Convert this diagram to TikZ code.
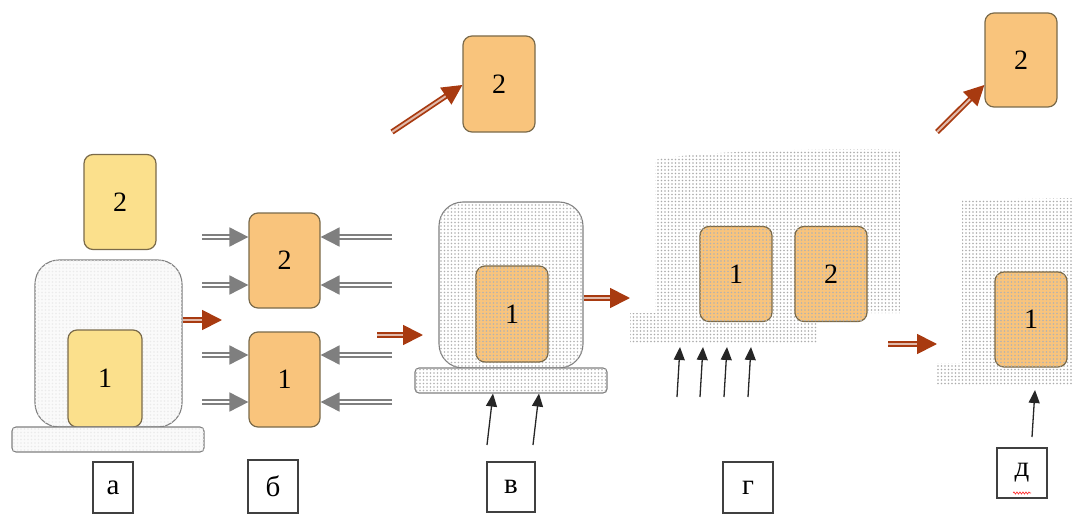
\documentclass[tikz,border=0pt]{standalone}
\usepackage{fontspec}
\setmainfont{Liberation Serif}
\usetikzlibrary{arrows.meta,patterns,decorations.pathmorphing}
\definecolor{ylw}{HTML}{FBE08C}
\definecolor{org}{HTML}{F9C47C}
\definecolor{bord}{HTML}{7A6A4A}
\definecolor{rarr}{HTML}{A83A10}
\definecolor{garr}{HTML}{7F7F7F}
\pgfdeclarepatternformonly{mydots}{\pgfqpoint{-1pt}{-1pt}}{\pgfqpoint{1pt}{1pt}}{\pgfqpoint{3.5pt}{3.5pt}}%
  {\pgfpathcircle{\pgfqpoint{0pt}{0pt}}{0.8pt}\pgfusepath{fill}}
\begin{document}
\begin{tikzpicture}[x=1pt,y=-1pt,
  blk/.style={draw=bord, line width=1.2pt, rounded corners=9pt, inner sep=0pt,
    font=\fontsize{28}{30}\selectfont, minimum width=72pt, minimum height=95pt},
  ybox/.style={blk, fill=ylw},
  obox/.style={blk, fill=org},
  dotbox/.style={blk, fill=org, postaction={pattern=mydots, pattern color=black!30}},
  bigbox/.style={draw=gray, line width=1.1pt, rounded corners=24pt, inner sep=0pt},
  plate/.style={draw=gray, line width=1.1pt, rounded corners=4pt, inner sep=0pt,
    minimum width=192pt, minimum height=25pt},
  lbl/.style={draw=black!75, line width=1.1pt, inner sep=0pt, font=\fontsize{29}{31}\selectfont},
  rarrow/.style={draw=rarr, line width=1.8pt, double=rarr!35, double distance=2pt,
    -{Triangle[length=20pt,width=20pt]}},
  garrow/.style={draw=garr, line width=1.8pt, double=white, double distance=1.8pt,
    -{Triangle[length=19pt,width=19pt]}},
  barrow/.style={draw=black!85, line width=1.3pt, -{Triangle[length=13pt,width=11pt]}},
  dotreg/.style={pattern=mydots, pattern color=black!33}
]
\useasboundingbox (0,0) rectangle (1072,527);

% ---------- panel a ----------
\node[ybox] (a2) at (120,202) {2};
\node[bigbox, fill=gray!4, postaction={pattern=mydots, pattern color=black!8},
  minimum width=147pt, minimum height=167pt] (aw) at (108.5,343.5) {};
\node[ybox, minimum width=74pt, minimum height=97pt] (a1) at (105,378.5) {1};
\node[plate, fill=gray!4, postaction={pattern=mydots, pattern color=black!8}] (ab) at (108,439.5) {};
\node[lbl, minimum width=40pt, minimum height=51pt] (la) at (113,487.5) {а};
\draw[rarrow] (aw.east |- 0,320) -- (222,320);

% ---------- panel b ----------
\node[obox, minimum width=71pt] (b2) at (284.5,260.5) {2};
\node[obox, minimum width=71pt] (b1) at (284.5,379.5) {1};
\foreach \y in {237,285} {
  \draw[garrow] (202,\y) -- (b2.west |- 0,\y);
  \draw[garrow] (392,\y) -- (b2.east |- 0,\y);
}
\foreach \y in {355,402} {
  \draw[garrow] (202,\y) -- (b1.west |- 0,\y);
  \draw[garrow] (392,\y) -- (b1.east |- 0,\y);
}
\node[lbl, minimum width=50pt, minimum height=53pt] (lb) at (273,486.5) {б};

% ---------- panel v ----------
\coordinate (vin) at (377,335);
\draw[rarrow] (vin) -- (423,335);
\node[obox, minimum height=96pt] (c2) at (499,84) {2};
\coordinate (cdiag) at (392,132);
\draw[rarrow] (cdiag) -- (c2.west |- 0,85);
\node[bigbox, fill=white, postaction={pattern=mydots, pattern color=black!30},
  minimum width=144pt, minimum height=166pt] (cw) at (511,285) {};
\node[dotbox, minimum height=96pt] (c1) at (512,314) {1};
\node[plate, fill=white, postaction={pattern=mydots, pattern color=black!30}] (cb) at (511,380.5) {};
\draw[barrow] (487,445) -- (cb.south -| 493,0);
\draw[barrow] (533,445) -- (cb.south -| 539,0);
\draw[rarrow] (cw.east |- 0,298) -- (630,298);
\node[lbl, minimum width=48pt, minimum height=50pt] (lc) at (511,487) {в};

% ---------- panel g ----------
\path[dotreg] (655,160) .. controls (700,150) and (850,148) .. (900,150)
  -- (900,313) -- (817,313) -- (817,343) -- (630,343) -- (630,313) -- (655,313) -- cycle;
\node[dotbox] (d1) at (736,274) {1};
\node[dotbox] (d2) at (831,274) {2};
\foreach \xa/\xb in {677/680,700/703,724/727,748/751}
  \draw[barrow] (\xa,397) -- (\xb,347);
\node[lbl, minimum width=50pt, minimum height=51pt] (ld) at (748,487.5) {г};
\draw[rarrow] (888,344) -- (937,344);

% ---------- panel d ----------
\node[obox, minimum height=94pt] (e2) at (1021,60) {2};
\coordinate (ediag) at (937,132);
\draw[rarrow] (ediag) -- (e2.west |- 0,85);
\path[dotreg] (962,200) -- (1072,198) -- (1072,385) -- (937,385) -- (937,363) -- (962,363) -- cycle;
\node[dotbox] (e1) at (1031,319.5) {1};
\coordinate (etip) at (1035,390);
\draw[barrow] (1032,437) -- (etip);
\node[lbl, minimum width=50pt, minimum height=50pt] (le) at (1022,473) {д};
\draw[red!80, line width=0.7pt, decorate, decoration={snake, amplitude=1pt, segment length=3pt}]
  (1013,493) -- (1031,493);
\end{tikzpicture}
\end{document}
